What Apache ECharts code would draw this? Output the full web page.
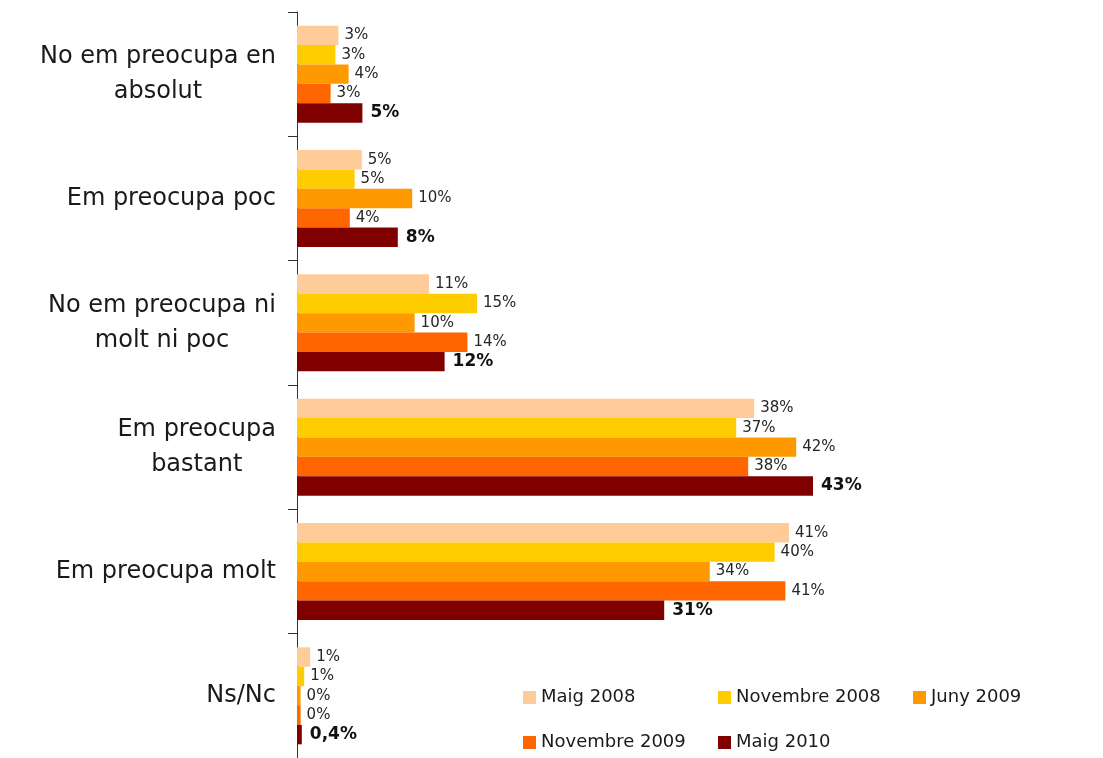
<!DOCTYPE html>
<html>
<head>
<meta charset="utf-8">
<script src="https://cdn.jsdelivr.net/npm/echarts@6/dist/echarts.min.js"></script>
<style>
  html, body { margin: 0; padding: 0; background: #fff; }
  #chart { width: 1103px; height: 758px; }
</style>
</head>
<body>
<div id="chart"></div>
<script>
// categories (top to bottom)
var categories = [
    'No em preocupa en\nabsolut',
    'Em preocupa poc',
    'No em preocupa ni\nmolt ni poc',
    'Em preocupa\nbastant',
    'Em preocupa molt',
    'Ns/Nc'
];
var seriesNames = ['Maig 2008', 'Novembre 2008', 'Juny 2009', 'Novembre 2009', 'Maig 2010'];
var seriesColors = ['#FFCC99', '#FFCC00', '#FF9900', '#FF6600', '#800000'];

// percentages
var maig2008 = [3.45, 5.4, 11.0, 38.1, 41.0, 1.1];
var nov2008 = [3.2, 4.8, 15.0, 36.6, 39.8, 0.6];
var juny2009 = [4.3, 9.6, 9.8, 41.6, 34.4, 0.3];
var nov2009 = [2.8, 4.4, 14.2, 37.6, 40.7, 0.3];
var maig2010 = [5.45, 8.4, 12.3, 43.0, 30.6, 0.4];
var seriesData = [maig2008, nov2008, juny2009, nov2009, maig2010];

var chart = echarts.init(document.getElementById('chart'));

// etiqueta de valor: enter arrodonit, decimal amb coma per valors < 1 de l'última onada
function pctLabel(v, last) {
    if (last && v < 1) return v.toFixed(1).replace('.', ',') + '%';
    return Math.round(v) + '%';
}

var series = [];
for (var i = 0; i < seriesNames.length; i++) {
    var last = (i == seriesNames.length - 1);
    series.push({
        name: seriesNames[i],
        type: 'bar',
        data: seriesData[i],
        barGap: '0%',
        barCategoryGap: '22%',
        itemStyle: { color: seriesColors[i] },
        label: {
            show: true,
            position: 'right',
            distance: last ? 8 : 6,
            fontFamily: 'DejaVu Sans',
            fontSize: last ? 17 : 15,
            fontWeight: last ? 'bold' : 'normal',
            color: last ? '#111' : '#262626',
            formatter: (function (isLast) {
                return function (p) { return pctLabel(p.value, isLast); };
            })(last)
        }
    });
}

var option = {
    animation: false,
    backgroundColor: '#fff',
    grid: { left: 297, top: 12, width: 720, height: 750, containLabel: false },
    xAxis: {
        type: 'value',
        min: 0,
        max: 60,
        show: false
    },
    yAxis: {
        type: 'category',
        inverse: true,
        data: categories,
        axisLine: { show: true, lineStyle: { color: '#333', width: 1 } },
        axisTick: { show: true, length: 9, lineStyle: { color: '#333' } },
        axisLabel: {
            margin: 21,
            formatter: function (val) {
                return val.split('\n').map(function (s) { return '{c|' + s + '}'; }).join('\n');
            },
            rich: {
                c: {
                    fontFamily: 'DejaVu Sans',
                    fontSize: 24,
                    color: '#1a1a1a',
                    align: 'center',
                    lineHeight: 35
                }
            }
        }
    },
    legend: {
        data: seriesNames,
        left: 523,
        top: 675,
        width: 600,
        padding: 0,
        orient: 'horizontal',
        itemWidth: 13,
        itemHeight: 13,
        itemGap: 0,
        icon: 'rect',
        textStyle: {
            fontFamily: 'DejaVu Sans',
            fontSize: 18,
            color: '#1a1a1a',
            width: 177,
            lineHeight: 45
        }
    },
    series: series
};
chart.setOption(option, true);
</script>
</body>
</html>
